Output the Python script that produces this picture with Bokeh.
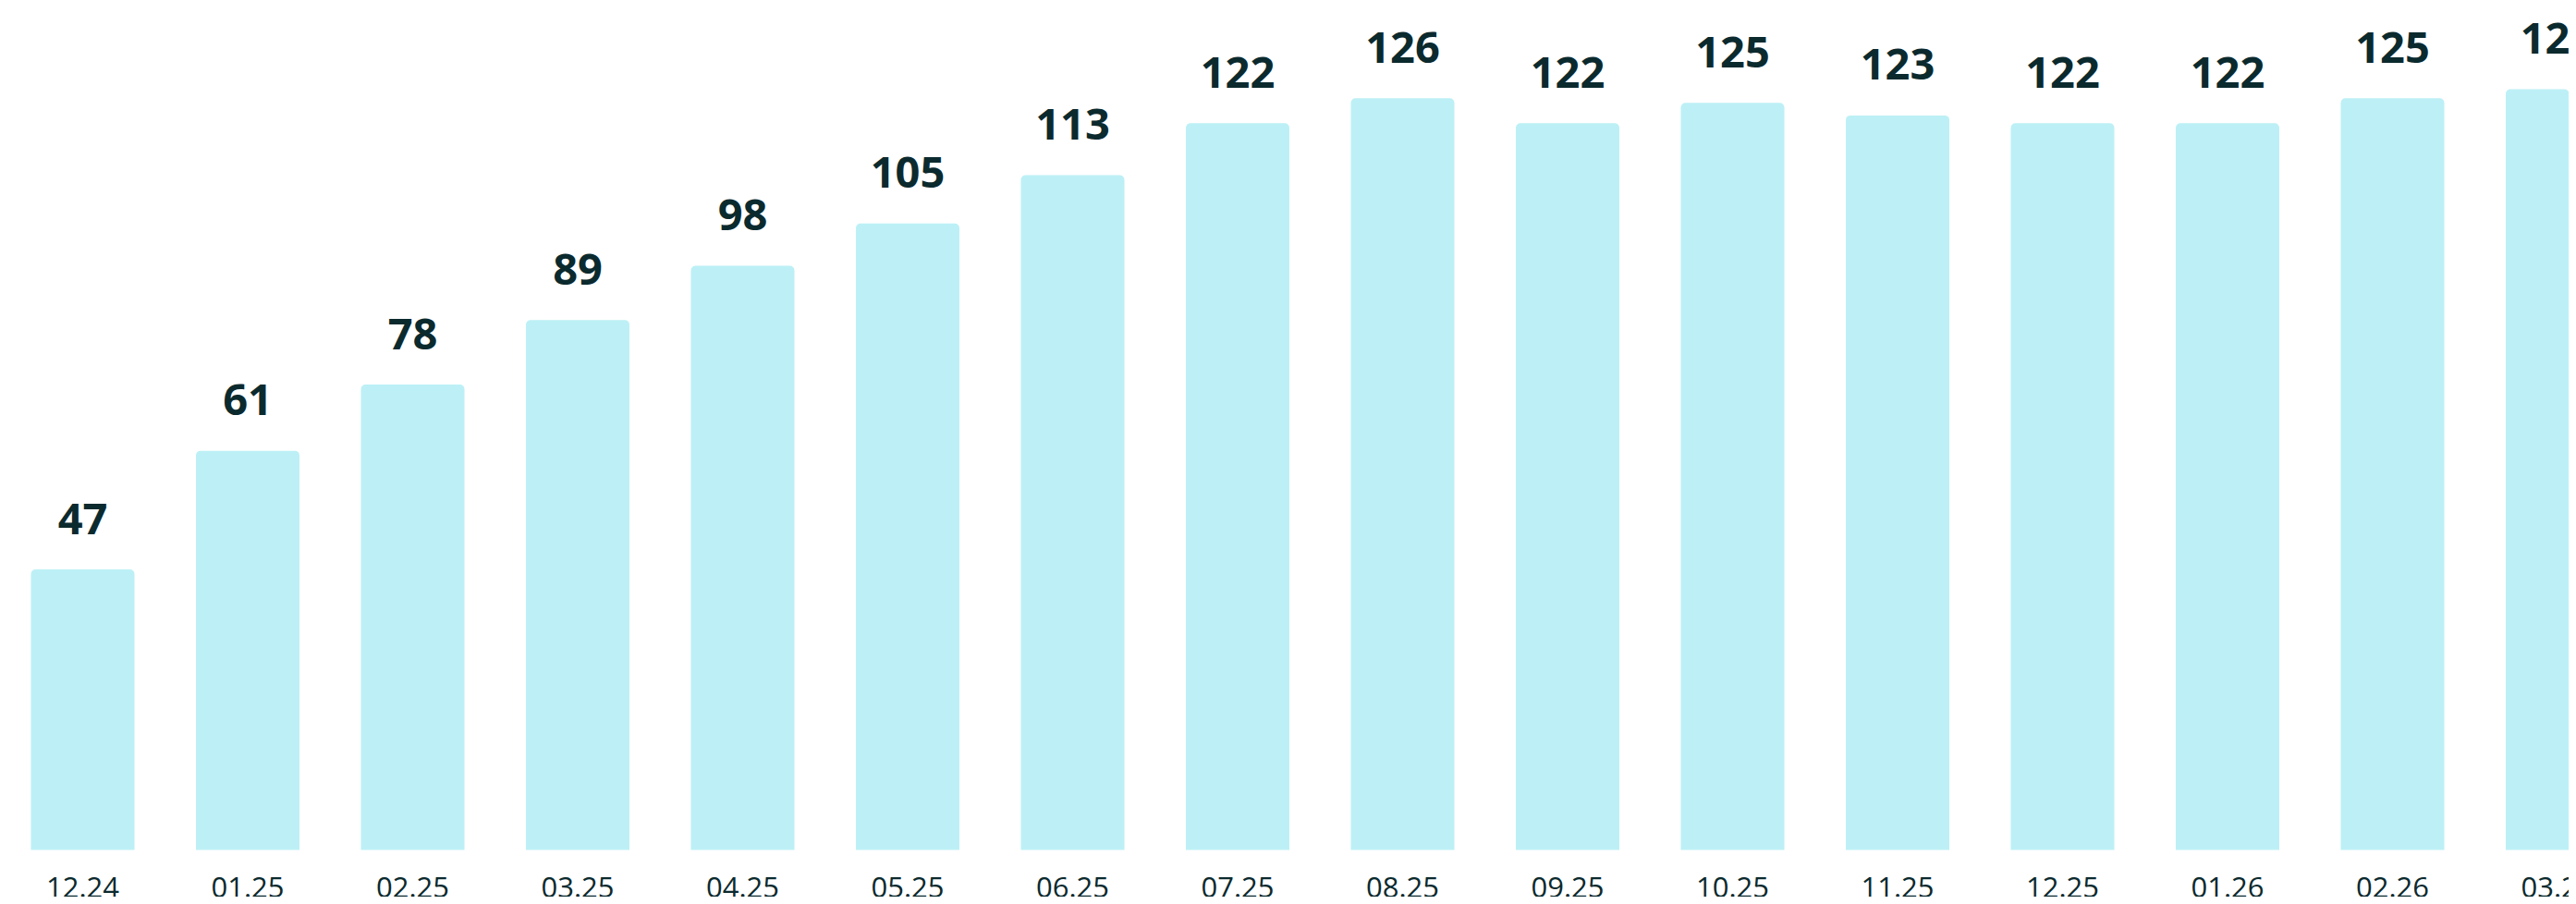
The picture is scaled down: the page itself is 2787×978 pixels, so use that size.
from bokeh.plotting import figure
from bokeh.models import ColumnDataSource, Range1d
from bokeh.core.properties import value
from bokeh.embed import file_html
from bokeh.resources import INLINE

# ---- data ----
months = ["12.24", "01.25", "02.25", "03.25", "04.25", "05.25", "06.25", "07.25",
          "08.25", "09.25", "10.25", "11.25", "12.25", "01.26", "02.26", "03.26"]
bar_heights = [47, 66.9, 78, 88.8, 97.9, 105, 113.1, 121.8,
               126, 121.8, 125.2, 123.1, 121.8, 121.8, 126, 127.5]
value_labels = ["47", "61", "78", "89", "98", "105", "113", "122",
                "126", "122", "125", "123", "122", "122", "125", "126"]

# ---- layout ----
W, H = 2779, 970
slot_px = 178.5          # distance between bar centres
first_px = 89            # first bar centre from left
base_px = 919            # baseline from top
unit_px = 6.455          # pixels per value unit

xs = list(range(len(months)))
src = ColumnDataSource(dict(x=xs, top=bar_heights, lab=value_labels, m=months,
                            zero=[0] * len(xs)))

p = figure(width=W, height=H, output_backend="svg", toolbar_location=None,
           x_range=Range1d(-first_px / slot_px, (W - first_px) / slot_px),
           y_range=Range1d(-(H - base_px) / unit_px, base_px / unit_px),
           min_border=0, min_border_left=0, min_border_right=0,
           min_border_top=0, min_border_bottom=0,
           x_axis_location=None, y_axis_location=None)
p.outline_line_color = None
p.grid.visible = False
p.background_fill_color = "white"
p.border_fill_color = "white"

p.vbar(x="x", top="top", bottom=0, width=112 / slot_px, source=src,
       fill_color="#bcf0f6", line_color=None, border_radius=(5, 5, 0, 0))

p.text(x="x", y="top", text="lab", source=src, y_offset=-55,
       text_align="center", text_baseline="alphabetic",
       text_font=value("Open Sans"), text_font_style="bold",
       text_font_size="47px", text_color="#0b2a2e")

p.text(x="x", y="zero", text="m", source=src, y_offset=40,
       text_align="center", text_baseline="alphabetic",
       text_font=value("Open Sans"), text_font_size="31px",
       text_color="#0b2a2e")

open("out.html", "w").write(file_html(p, INLINE))
